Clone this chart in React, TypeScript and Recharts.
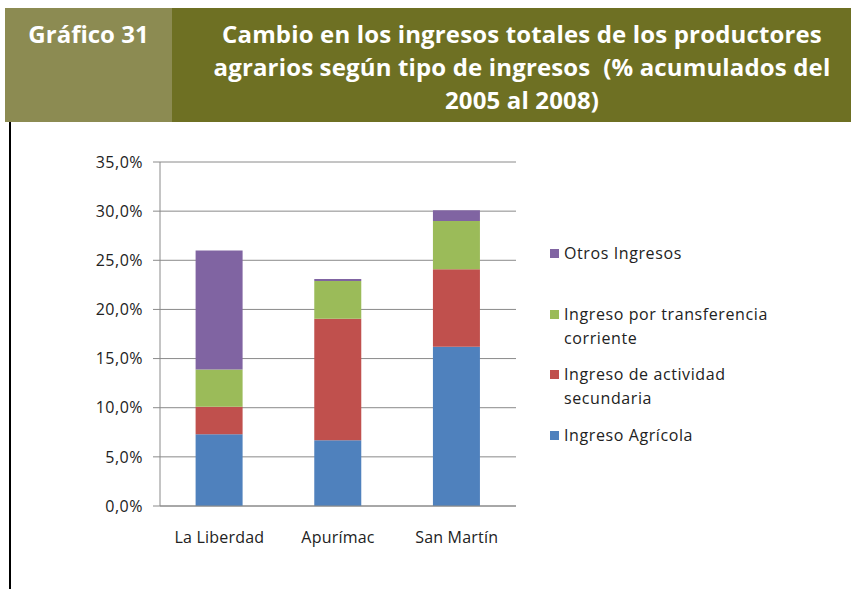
import React from "react";
import { BarChart, Bar, XAxis, YAxis, CartesianGrid } from "recharts";

const categories = ["La Liberdad", "Apurímac", "San Martín"];
const agricola = [7.3, 6.7, 16.2];
const secundaria = [2.8, 12.35, 7.9];
const transferencia = [3.8, 3.85, 4.9];
const otros = [12.1, 0.2, 1.1];
const yTicks = [0, 5, 10, 15, 20, 25, 30, 35];

const seriesInfo = [
  { key: "agricola", name: "Ingreso Agrícola", color: "#4F81BD" },
  { key: "secundaria", name: "Ingreso de actividad secundaria", color: "#C0504D" },
  { key: "transferencia", name: "Ingreso por transferencia corriente", color: "#9BBB59" },
  { key: "otros", name: "Otros Ingresos", color: "#8064A2" },
];

const legendLines: Record<string, string[]> = {
  otros: ["Otros Ingresos"],
  transferencia: ["Ingreso por transferencia", "corriente"],
  secundaria: ["Ingreso de actividad", "secundaria"],
  agricola: ["Ingreso Agrícola"],
};
const legendTops: Record<string, number> = { otros: 242, transferencia: 303, secundaria: 363, agricola: 424 };

const data = categories.map((c, i) => ({
  name: c,
  agricola: agricola[i],
  secundaria: secundaria[i],
  transferencia: transferencia[i],
  otros: otros[i],
}));

const font = "'Open Sans', sans-serif";

const LegendBlock = () => (
  <div style={{ position: "absolute", left: 550, top: 0, fontFamily: font, fontSize: 16, letterSpacing: 0.6, color: "#222" }}>
    {[...seriesInfo].reverse().map((s) => (
      <div key={s.key} style={{ position: "absolute", left: 0, top: legendTops[s.key] }}>
        <div style={{ position: "absolute", left: 0, top: 7, width: 9, height: 9, background: s.color }} />
        <div style={{ position: "absolute", left: 14, top: -1, lineHeight: "24px", whiteSpace: "nowrap" }}>
          {legendLines[s.key].map((l, j) => (
            <div key={j}>{l}</div>
          ))}
        </div>
      </div>
    ))}
  </div>
);

export default function App() {
  return (
    <div style={{ position: "absolute", left: 0, top: 0, width: 859, height: 589, background: "#fff", overflow: "hidden" }}>
      <div style={{ position: "absolute", left: 5, top: 8, width: 167, height: 114, background: "#8C8B52" }} />
      <div style={{ position: "absolute", left: 172, top: 8, width: 679, height: 114, background: "#6E7023" }} />
      <div style={{ position: "absolute", left: 5, top: 17, width: 167, textAlign: "center", color: "#fff", fontFamily: font, fontWeight: 700, fontSize: 24, lineHeight: "33px" }}>
        Gráfico 31
      </div>
      <div style={{ position: "absolute", left: 182, top: 17, width: 680, textAlign: "center", color: "#fff", fontFamily: font, fontWeight: 700, fontSize: 24, lineHeight: "33px", letterSpacing: 0.15 }}>
        <div style={{ whiteSpace: "nowrap" }}>Cambio en los ingresos totales de los productores</div>
        <div style={{ whiteSpace: "nowrap" }}>agrarios según tipo de ingresos&nbsp; (% acumulados del</div>
        <div>2005 al 2008)</div>
      </div>
      <div style={{ position: "absolute", left: 9, top: 122, width: 2, height: 467, background: "#000" }} />
      <div style={{ position: "absolute", left: 0, top: 0 }}>
        <BarChart width={859} height={589} data={data} margin={{ top: 162, right: 343, bottom: 43, left: 0 }} barCategoryGap="30%">
          <CartesianGrid vertical={false} stroke="#8a8a8a" strokeWidth={1} />
          <XAxis
            dataKey="name"
            height={40}
            tickLine={false}
            axisLine={{ stroke: "#8a8a8a" }}
            tick={{ fontFamily: font, fontSize: 16, fill: "#222", letterSpacing: 0.2 }}
            tickMargin={20}
          />
          <YAxis
            width={160}
            domain={[0, 35]}
            ticks={yTicks}
            interval={0}
            tickFormatter={(v: number) => v.toFixed(1).replace(".", ",") + "%"}
            tickSize={7}
            tickLine={{ stroke: "#8a8a8a" }}
            axisLine={{ stroke: "#8a8a8a" }}
            tick={{ fontFamily: font, fontSize: 16, fill: "#222", letterSpacing: 0.5 }}
            tickMargin={10}
          />
          {seriesInfo.map((s) => (
            <Bar key={s.key} dataKey={s.key} name={s.name} stackId="a" fill={s.color} isAnimationActive={false} />
          ))}
        </BarChart>
      </div>
      <LegendBlock />
    </div>
  );
}
